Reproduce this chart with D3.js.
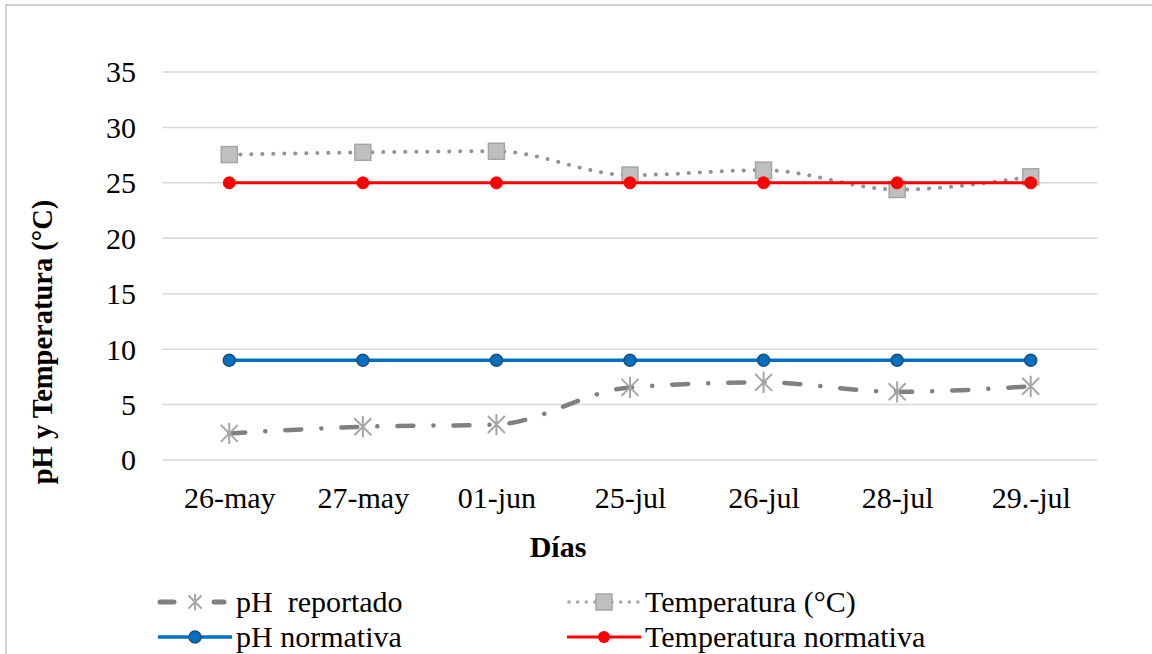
<!DOCTYPE html>
<html><head><meta charset="utf-8">
<script src="https://cdn.jsdelivr.net/npm/d3@7"></script>
<style>body{margin:0;background:#fff}svg{display:block}
svg text{font-family:"Liberation Serif","Times New Roman",Tinos,"DejaVu Serif",serif !important;}</style>
</head><body>
<svg id="c" width="1152" height="654"></svg>
<script>
const categories = ["26-may","27-may","01-jun","25-jul","26-jul","28-jul","29.-jul"];
const phReportado = [2.4, 3.0, 3.2, 6.55, 7.0, 6.15, 6.65];
const temperatura = [27.55, 27.75, 27.85, 25.7, 26.15, 24.4, 25.55];
const phNormativa = [9, 9, 9, 9, 9, 9, 9];
const tempNormativa = [25, 25, 25, 25, 25, 25, 25];
const yTicks = [0, 5, 10, 15, 20, 25, 30, 35];
const legendLabels = ["pH  reportado", "Temperatura (°C)", "pH normativa", "Temperatura normativa"];

const svg = d3.select("#c");

svg.append("rect").attr("x",6).attr("y",5).attr("width",1160).attr("height",670)
  .attr("fill","#fff").attr("stroke","#BFBFBF").attr("stroke-width",1.5);

const x = d3.scalePoint().domain(categories).range([162.5, 1097.5]).padding(0.5);
const y = d3.scaleLinear().domain([0, 35]).range([460, 72]);

// gridlines
svg.append("g").selectAll("line").data(yTicks).join("line")
  .attr("x1",162.5).attr("x2",1097.5)
  .attr("y1",d=>y(d)).attr("y2",d=>y(d))
  .attr("stroke","#D9D9D9").attr("stroke-width",1.5);

// y axis labels
const yAxis = d3.axisLeft(y).tickValues(yTicks).tickSize(0).tickPadding(0);
const gy = svg.append("g").attr("transform","translate(136,0)").call(yAxis);
gy.select(".domain").remove();
gy.selectAll("text").attr("font-size",30).attr("fill","#000").attr("dy","0.33em");

// x axis labels
const xAxis = d3.axisBottom(x).tickSize(0).tickPadding(0);
const gx = svg.append("g").attr("transform","translate(0,485)").call(xAxis);
gx.select(".domain").remove();
gx.selectAll("text").attr("font-size",30).attr("fill","#000").attr("dy","0.75em");

// titles
svg.append("text").attr("x",558).attr("y",557).attr("text-anchor","middle")
  .attr("font-weight","bold").attr("font-size",30).text("Días");
svg.append("text").attr("transform","translate(52,342) rotate(-90)").attr("text-anchor","middle")
  .attr("font-weight","bold").attr("font-size",28.5).text("pH y Temperatura (°C)");

const curve = d3.curveMonotoneX;
const line = d3.line().x((d,i)=>x(categories[i])).y(d=>y(d));

function asterisk(g, cx, cy, s){
  const p = `M${cx-s},${cy-s}L${cx+s},${cy+s}M${cx-s},${cy+s}L${cx+s},${cy-s}M${cx},${cy-s*1.25}L${cx},${cy+s*1.25}`;
  g.append("path").attr("d",p).attr("stroke","#A6A6A6").attr("stroke-width",2).attr("fill","none");
}

// Temperatura (°C)
svg.append("path").datum(temperatura).attr("d",line.curve(curve))
  .attr("fill","none").attr("stroke","#949494").attr("stroke-width",4)
  .attr("stroke-linecap","round").attr("stroke-dasharray","0.1 10.9");
svg.append("g").selectAll("rect").data(temperatura).join("rect")
  .attr("x",(d,i)=>x(categories[i])-8).attr("y",d=>y(d)-8).attr("width",16).attr("height",16)
  .attr("fill","#BFBFBF").attr("stroke","#A6A6A6").attr("stroke-width",1.5);

// Temperatura normativa
svg.append("path").datum(tempNormativa).attr("d",line.curve(d3.curveLinear))
  .attr("fill","none").attr("stroke","#FF0000").attr("stroke-width",3);
svg.append("g").selectAll("circle").data(tempNormativa).join("circle")
  .attr("cx",(d,i)=>x(categories[i])).attr("cy",d=>y(d)).attr("r",6)
  .attr("fill","#FF0000").attr("stroke","#FF0000").attr("stroke-width",1);

// pH normativa
svg.append("path").datum(phNormativa).attr("d",line.curve(d3.curveLinear))
  .attr("fill","none").attr("stroke","#0070C0").attr("stroke-width",3.5);
svg.append("g").selectAll("circle").data(phNormativa).join("circle")
  .attr("cx",(d,i)=>x(categories[i])).attr("cy",d=>y(d)).attr("r",6)
  .attr("fill","#0070C0").attr("stroke","#1F4E79").attr("stroke-width",1.5);

// pH reportado
svg.append("path").datum(phReportado).attr("d",line.curve(curve))
  .attr("fill","none").attr("stroke","#808080").attr("stroke-width",4.5)
  .attr("stroke-linecap","round").attr("stroke-dasharray","16 20 0.1 20");
const gAst = svg.append("g");
phReportado.forEach((d,i)=>asterisk(gAst, x(categories[i]), y(d), 8.5));

// legend
const leg = svg.append("g");
const items = [
  {x:158, y:602, t:legendLabels[0], kind:"phr"},
  {x:567, y:602, t:legendLabels[1], kind:"temp"},
  {x:158, y:637, t:legendLabels[2], kind:"phn"},
  {x:567, y:637, t:legendLabels[3], kind:"tn"}
];
items.forEach(it=>{
  const x0 = it.x, x1 = it.x+74, cx = it.x+37, cy = it.y;
  if(it.kind==="phr"){
    leg.append("line").attr("x1",x0+2).attr("x2",x0+16).attr("y1",cy).attr("y2",cy)
      .attr("stroke","#808080").attr("stroke-width",5).attr("stroke-linecap","round");
    leg.append("line").attr("x1",x0+56).attr("x2",x0+66).attr("y1",cy).attr("y2",cy)
      .attr("stroke","#808080").attr("stroke-width",5).attr("stroke-linecap","round");
    asterisk(leg, cx, cy, 6.5);
  } else if(it.kind==="temp"){
    leg.append("line").attr("x1",x0+2).attr("x2",x1).attr("y1",cy).attr("y2",cy)
      .attr("stroke","#A6A6A6").attr("stroke-width",3.5).attr("stroke-linecap","round")
      .attr("stroke-dasharray","0.1 8.5");
    leg.append("rect").attr("x",cx-8).attr("y",cy-8).attr("width",16).attr("height",16)
      .attr("fill","#BFBFBF").attr("stroke","#A6A6A6").attr("stroke-width",1.5);
  } else if(it.kind==="phn"){
    leg.append("line").attr("x1",x0).attr("x2",x1).attr("y1",cy).attr("y2",cy)
      .attr("stroke","#0070C0").attr("stroke-width",3.5);
    leg.append("circle").attr("cx",cx).attr("cy",cy).attr("r",6)
      .attr("fill","#0070C0").attr("stroke","#1F4E79").attr("stroke-width",1.5);
  } else {
    leg.append("line").attr("x1",x0).attr("x2",x1).attr("y1",cy).attr("y2",cy)
      .attr("stroke","#FF0000").attr("stroke-width",3);
    leg.append("circle").attr("cx",cx).attr("cy",cy).attr("r",6).attr("fill","#FF0000");
  }
  leg.append("text").attr("x",x1+4).attr("y",cy+10)
    .attr("font-size",30).attr("fill","#000").style("white-space","pre").text(it.t);
});
</script>
</body></html>
